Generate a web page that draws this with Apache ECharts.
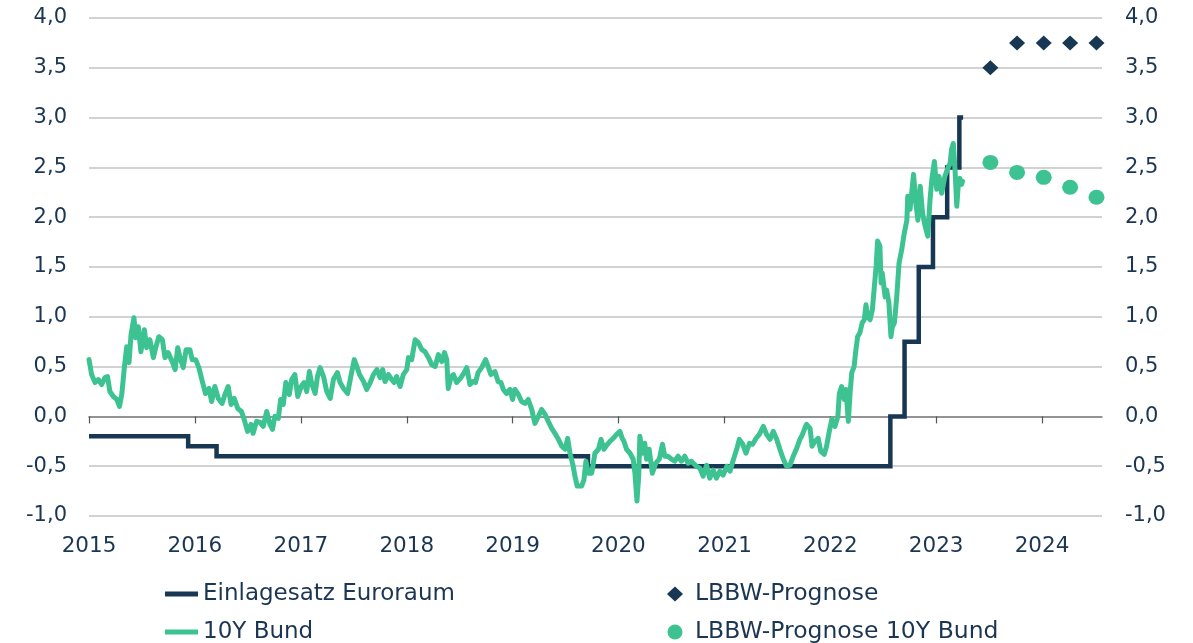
<!DOCTYPE html>
<html><head><meta charset="utf-8">
<script src="https://cdn.jsdelivr.net/npm/echarts@6/dist/echarts.min.js"></script>
<style>html,body{margin:0;padding:0;background:#fff}#c{width:1193px;height:643px}</style>
</head><body><div id="c"></div>
<script>
// ---- data ----
const yearLabels = ['2015','2016','2017','2018','2019','2020','2021','2022','2023','2024'];
const xStart = '2015-01-01';
const xEnd = '2024-07-26';

const rateDates = ['2015-01-01','2015-12-09','2016-03-16','2019-09-18','2022-07-27','2022-09-14','2022-11-02','2022-12-21','2023-02-08','2023-03-22','2023-04-04'];
const rateValues = [-0.20,-0.30,-0.40,-0.50,0.00,0.75,1.50,2.00,2.50,3.00,3.00];

const bund10y = [
['2015-01-01',0.57],['2015-01-10',0.42],['2015-01-22',0.34],['2015-02-02',0.37],['2015-02-14',0.32],['2015-02-25',0.39],
['2015-03-06',0.40],['2015-03-14',0.25],['2015-03-26',0.20],['2015-04-07',0.17],['2015-04-16',0.10],['2015-04-24',0.22],
['2015-05-03',0.49],['2015-05-11',0.70],['2015-05-19',0.54],['2015-05-26',0.82],['2015-06-05',0.99],['2015-06-11',0.79],
['2015-06-20',0.90],['2015-06-29',0.65],['2015-07-11',0.87],['2015-07-19',0.69],['2015-07-30',0.77],['2015-08-11',0.59],
['2015-08-19',0.69],['2015-08-30',0.80],['2015-09-11',0.77],['2015-09-20',0.59],['2015-10-01',0.64],['2015-10-15',0.55],
['2015-10-25',0.47],['2015-11-03',0.69],['2015-11-11',0.59],['2015-11-22',0.49],['2015-12-02',0.67],['2015-12-15',0.67],
['2015-12-23',0.57],
['2016-01-04',0.57],['2016-01-15',0.49],['2016-01-27',0.35],['2016-02-07',0.23],['2016-02-19',0.28],['2016-02-28',0.15],
['2016-03-10',0.30],['2016-03-22',0.18],['2016-04-04',0.13],['2016-04-14',0.22],['2016-04-25',0.30],['2016-05-05',0.12],
['2016-05-16',0.18],['2016-05-28',0.08],['2016-06-10',0.05],['2016-06-19',-0.03],['2016-07-01',-0.15],['2016-07-13',-0.08],
['2016-07-20',-0.17],['2016-08-01',-0.05],['2016-08-13',-0.06],['2016-08-24',-0.10],['2016-09-05',0.05],['2016-09-16',-0.08],
['2016-09-25',-0.13],['2016-10-03',0.00],['2016-10-15',-0.02],['2016-10-23',0.17],['2016-11-01',0.12],['2016-11-10',0.34],
['2016-11-22',0.22],['2016-11-30',0.37],['2016-12-11',0.42],['2016-12-21',0.20],
['2017-01-02',0.30],['2017-01-12',0.34],['2017-01-21',0.25],['2017-01-30',0.45],['2017-02-08',0.32],['2017-02-19',0.23],
['2017-02-27',0.40],['2017-03-08',0.49],['2017-03-20',0.40],['2017-03-31',0.25],['2017-04-12',0.18],['2017-04-23',0.37],
['2017-05-07',0.44],['2017-05-16',0.34],['2017-05-28',0.28],['2017-06-11',0.23],['2017-06-22',0.40],['2017-07-04',0.57],
['2017-07-13',0.50],['2017-07-22',0.42],['2017-08-05',0.35],['2017-08-16',0.27],['2017-08-28',0.34],['2017-09-08',0.42],
['2017-09-20',0.47],['2017-10-01',0.39],['2017-10-10',0.47],['2017-10-18',0.35],['2017-10-30',0.42],['2017-11-10',0.37],
['2017-11-18',0.34],['2017-11-27',0.40],['2017-12-09',0.30],['2017-12-20',0.42],
['2018-01-01',0.47],['2018-01-07',0.59],['2018-01-18',0.57],['2018-01-30',0.77],['2018-02-10',0.74],['2018-02-22',0.67],
['2018-03-05',0.65],['2018-03-17',0.59],['2018-03-28',0.52],['2018-04-09',0.50],['2018-04-20',0.62],['2018-05-02',0.55],
['2018-05-11',0.64],['2018-05-19',0.57],['2018-05-24',0.28],['2018-06-03',0.40],['2018-06-11',0.42],['2018-06-22',0.34],
['2018-07-07',0.39],['2018-07-18',0.44],['2018-07-27',0.49],['2018-08-07',0.32],['2018-08-18',0.35],['2018-08-26',0.34],
['2018-09-04',0.44],['2018-09-16',0.49],['2018-09-30',0.57],['2018-10-09',0.50],['2018-10-18',0.42],['2018-11-01',0.45],
['2018-11-12',0.35],['2018-11-22',0.34],['2018-11-30',0.27],['2018-12-11',0.23],['2018-12-23',0.27],
['2019-01-01',0.17],['2019-01-09',0.27],['2019-01-21',0.22],['2019-02-01',0.15],['2019-02-13',0.13],['2019-02-24',0.17],
['2019-03-08',0.07],['2019-03-19',-0.07],['2019-03-31',0.00],['2019-04-11',0.07],['2019-04-23',0.02],['2019-05-04',-0.05],
['2019-05-16',-0.12],['2019-05-27',-0.17],['2019-06-08',-0.23],['2019-06-20',-0.30],['2019-07-01',-0.33],['2019-07-10',-0.22],
['2019-07-18',-0.37],['2019-07-29',-0.50],['2019-08-04',-0.60],['2019-08-12',-0.70],['2019-08-27',-0.70],['2019-09-04',-0.64],
['2019-09-11',-0.45],['2019-09-19',-0.57],['2019-10-01',-0.57],['2019-10-12',-0.37],['2019-10-24',-0.33],['2019-11-02',-0.23],
['2019-11-12',-0.33],['2019-11-24',-0.28],['2019-12-03',-0.25],['2019-12-14',-0.22],['2019-12-26',-0.18],
['2020-01-06',-0.15],['2020-01-14',-0.22],['2020-01-20',-0.25],['2020-01-29',-0.33],['2020-02-10',-0.37],['2020-02-21',-0.43],
['2020-02-27',-0.57],['2020-03-05',-0.85],['2020-03-11',-0.60],['2020-03-15',-0.20],['2020-03-24',-0.37],['2020-04-01',-0.27],
['2020-04-07',-0.43],['2020-04-16',-0.33],['2020-04-27',-0.57],['2020-05-09',-0.47],['2020-05-21',-0.43],['2020-06-01',-0.28],
['2020-06-09',-0.40],['2020-06-20',-0.40],['2020-07-02',-0.43],['2020-07-13',-0.45],['2020-07-25',-0.40],['2020-08-05',-0.45],
['2020-08-17',-0.40],['2020-08-28',-0.47],['2020-09-09',-0.45],['2020-09-26',-0.50],['2020-10-08',-0.52],['2020-10-19',-0.60],
['2020-10-31',-0.49],['2020-11-11',-0.62],['2020-11-23',-0.54],['2020-12-04',-0.62],['2020-12-16',-0.55],['2020-12-27',-0.59],
['2021-01-09',-0.50],['2021-01-20',-0.55],['2021-02-01',-0.43],['2021-02-12',-0.33],['2021-02-21',-0.23],['2021-03-05',-0.28],
['2021-03-16',-0.37],['2021-03-28',-0.27],['2021-04-08',-0.28],['2021-04-20',-0.22],['2021-05-01',-0.18],['2021-05-15',-0.10],
['2021-05-26',-0.18],['2021-06-07',-0.23],['2021-06-18',-0.15],['2021-06-30',-0.23],['2021-07-11',-0.33],['2021-07-23',-0.43],
['2021-08-03',-0.50],['2021-08-15',-0.49],['2021-08-26',-0.40],['2021-09-07',-0.32],['2021-09-18',-0.23],['2021-09-24',-0.20],
['2021-10-05',-0.12],['2021-10-11',-0.08],['2021-10-23',-0.12],['2021-10-30',-0.30],['2021-11-09',-0.25],['2021-11-20',-0.22],
['2021-11-29',-0.35],['2021-12-11',-0.38],['2021-12-19',-0.30],['2021-12-27',-0.17],
['2022-01-06',-0.03],['2022-01-17',-0.10],['2022-01-27',0.00],['2022-02-01',0.23],['2022-02-09',0.30],['2022-02-18',0.17],
['2022-02-24',0.27],['2022-03-04',-0.05],['2022-03-10',0.23],['2022-03-16',0.44],['2022-03-24',0.50],['2022-03-29',0.64],
['2022-04-05',0.80],['2022-04-13',0.84],['2022-04-21',0.94],['2022-04-28',0.97],['2022-05-04',1.12],['2022-05-10',1.00],
['2022-05-18',0.97],['2022-05-26',1.07],['2022-06-02',1.31],['2022-06-08',1.51],['2022-06-13',1.76],['2022-06-21',1.71],
['2022-06-25',1.34],['2022-06-29',1.44],['2022-07-09',1.20],['2022-07-14',1.27],['2022-07-22',1.14],['2022-07-29',0.80],
['2022-08-03',0.90],['2022-08-10',0.94],['2022-08-18',1.20],['2022-08-26',1.54],['2022-09-04',1.67],['2022-09-13',1.84],
['2022-09-22',1.97],['2022-09-25',2.21],['2022-10-03',2.08],['2022-10-15',2.43],['2022-10-23',2.14],['2022-10-30',1.97],
['2022-11-07',2.31],['2022-11-15',2.04],['2022-11-24',1.91],['2022-12-03',1.81],['2022-12-11',2.18],['2022-12-17',2.38],
['2022-12-26',2.56],
['2023-01-03',2.28],['2023-01-11',2.41],['2023-01-20',2.24],['2023-01-31',2.41],['2023-02-10',2.49],['2023-02-18',2.54],
['2023-02-23',2.68],['2023-03-01',2.74],['2023-03-07',2.48],['2023-03-13',2.11],['2023-03-18',2.31],['2023-03-24',2.39],
['2023-03-30',2.33],['2023-04-02',2.36]
];

const forecastDates = ['2023-07-07','2023-10-07','2024-01-07','2024-04-07','2024-07-07'];
const rateForecast = [3.50,3.75,3.75,3.75,3.75];
const bundForecast = [2.55,2.45,2.40,2.30,2.20];

const names = ['Einlagesatz Euroraum','10Y Bund','LBBW-Prognose','LBBW-Prognose 10Y Bund'];

// ---- helpers ----
function t(s){ const p = s.split('-').map(Number); return Date.UTC(p[0], p[1]-1, p[2]); }
const navy = '#173753';
const green = '#3cc391';
const textColor = '#1b3652';
const font = 'DejaVu Sans';
const yearTicks = yearLabels.map(y => Date.UTC(+y, 0, 1));
const fmtY = v => v.toFixed(1).replace('.', ',');

const chart = echarts.init(document.getElementById('c'), null, {renderer: 'canvas'});
chart.setOption({
  animation: false,
  backgroundColor: '#ffffff',
  grid: {left: 89, right: 91, top: 18, bottom: 127, containLabel: false},
  xAxis: [
    {
      type: 'value', min: t(xStart), max: t(xEnd), position: 'bottom',
      axisLine: {show: false, onZero: false},
      axisTick: {show: false},
      splitLine: {show: false},
      axisLabel: {
        show: true, customValues: yearTicks, margin: 19,
        formatter: v => String(new Date(v).getUTCFullYear()),
        color: textColor, fontFamily: font, fontSize: 21.5
      }
    },
    {
      type: 'value', min: t(xStart), max: t(xEnd), position: 'bottom',
      axisLine: {show: true, onZero: true, onZeroAxisIndex: 0, lineStyle: {color: '#7f7f7f', width: 1.5}},
      axisTick: {show: true, customValues: yearTicks, length: 7, inside: false, lineStyle: {color: '#555555', width: 1.2}},
      axisLabel: {show: false},
      splitLine: {show: false}
    }
  ],
  yAxis: [
    {
      type: 'value', min: -1, max: 4, interval: 0.5, position: 'left',
      axisLine: {show: false}, axisTick: {show: false},
      splitLine: {show: true, lineStyle: {color: '#c3c3c3', width: 1.5}},
      axisLabel: {formatter: fmtY, margin: 22, color: textColor, fontFamily: font, fontSize: 21}
    },
    {
      type: 'value', min: -1, max: 4, interval: 0.5, position: 'right',
      axisLine: {show: false}, axisTick: {show: false},
      splitLine: {show: false},
      axisLabel: {formatter: fmtY, margin: 23, color: textColor, fontFamily: font, fontSize: 21}
    }
  ],
  legend: [
    {
      data: [names[0], names[1]], orient: 'vertical', left: 165, top: 582, height: 90, padding: 0,
      icon: 'rect', itemWidth: 33, itemHeight: 5, itemGap: 14, selectedMode: false,
      textStyle: {color: textColor, fontFamily: font, fontSize: 23, lineHeight: 24}
    },
    {
      data: [{name: names[2], icon: 'diamond'}, {name: names[3], icon: 'circle'}],
      orient: 'vertical', left: 667, top: 582, height: 90, padding: 0,
      itemWidth: 16, itemHeight: 15, itemGap: 14, selectedMode: false,
      textStyle: {color: textColor, fontFamily: font, fontSize: 23.5, lineHeight: 24, padding: [0, 0, 0, 7]}
    }
  ],
  series: [
    {
      name: names[0], type: 'line', step: 'end', xAxisIndex: 0, yAxisIndex: 0,
      data: rateDates.map((d, i) => [t(d), rateValues[i]]),
      symbol: 'none', color: navy, z: 2,
      lineStyle: {color: navy, width: 4.5, cap: 'butt', join: 'miter'}
    },
    {
      name: names[1], type: 'line', xAxisIndex: 0, yAxisIndex: 0,
      data: bund10y.map(p => [t(p[0]), p[1]]),
      symbol: 'none', color: green, z: 3,
      lineStyle: {color: green, width: 5, cap: 'round', join: 'round'}
    },
    {
      name: names[2], type: 'scatter', xAxisIndex: 0, yAxisIndex: 0,
      data: forecastDates.map((d, i) => [t(d), rateForecast[i]]),
      symbol: 'diamond', symbolSize: [16, 15], color: navy, z: 4,
      itemStyle: {color: navy, opacity: 1}
    },
    {
      name: names[3], type: 'scatter', xAxisIndex: 0, yAxisIndex: 0,
      data: forecastDates.map((d, i) => [t(d), bundForecast[i]]),
      symbol: 'circle', symbolSize: [16, 15], color: green, z: 4,
      itemStyle: {color: green, opacity: 1}
    }
  ]
});
</script>
</body></html>
